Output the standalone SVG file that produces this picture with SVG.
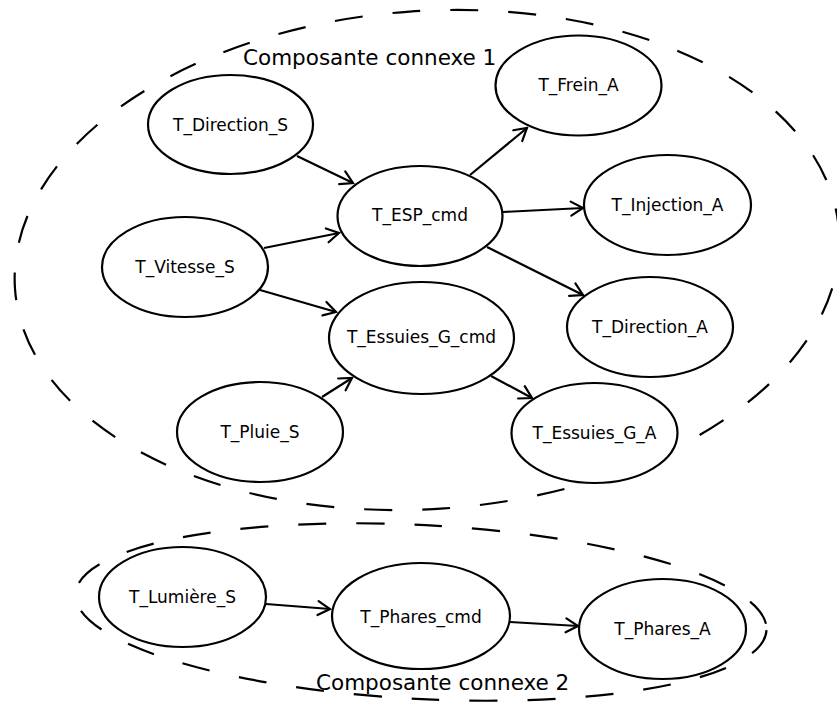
<svg xmlns="http://www.w3.org/2000/svg" width="837" height="706" viewBox="0 0 837 706">
  <style>
    .node ellipse { fill: #ffffff; stroke: #000000; stroke-width: 2.2; }
    .node text { font-family: "DejaVu Sans", "Liberation Sans", sans-serif; font-size: 17px; fill: #000000; text-anchor: middle; }
    .group { fill: none; stroke: #000000; stroke-width: 2.2; stroke-dasharray: 28 30; }
    .title { font-family: "DejaVu Sans", "Liberation Sans", sans-serif; font-size: 21.5px; fill: #000000; }
    #edges line { stroke: #000000; stroke-width: 2.2; marker-end: url(#arrow); }
  </style>
  <defs>
    <marker id="arrow" markerUnits="userSpaceOnUse" viewBox="-14 -9 16 18" refX="0" refY="0" markerWidth="16" markerHeight="18" orient="auto">
      <path d="M-12,-7 L0,0 L-12,7" fill="none" stroke="#000000" stroke-width="2.2" stroke-linecap="round" stroke-linejoin="miter"/>
    </marker>
  </defs>

  <rect width="837" height="706" fill="#ffffff"/>

  <!-- connected component outlines -->
  <g id="components">
    <ellipse class="group" cx="427" cy="260" rx="413" ry="249" transform="rotate(-4 427 260)"/>
    <ellipse class="group" cx="421" cy="612" rx="346" ry="87" transform="rotate(3 421 612)"/>
    <text class="title" x="243" y="65">Composante connexe 1</text>
    <text class="title" x="316" y="690">Composante connexe 2</text>
  </g>

  <!-- dependency arrows -->
  <g id="edges">
    <line x1="297" y1="156" x2="353" y2="183"/>
    <line x1="264" y1="248" x2="339" y2="233"/>
    <line x1="260" y1="290" x2="336" y2="312"/>
    <line x1="322" y1="397" x2="352" y2="378"/>
    <line x1="470" y1="175" x2="527" y2="128"/>
    <line x1="503" y1="212" x2="583" y2="208"/>
    <line x1="487" y1="247" x2="583" y2="295"/>
    <line x1="491" y1="376" x2="532" y2="398"/>
    <line x1="266" y1="604" x2="330" y2="609"/>
    <line x1="510" y1="622" x2="578" y2="626"/>
  </g>

  <!-- tasks -->
  <g id="T_Direction_S" class="node">
    <ellipse cx="230.5" cy="124.5" rx="82.5" ry="49.5"/>
    <text x="230.5" y="131">T_Direction_S</text>
  </g>
  <g id="T_Vitesse_S" class="node">
    <ellipse cx="185" cy="267" rx="83" ry="50"/>
    <text x="185" y="273">T_Vitesse_S</text>
  </g>
  <g id="T_Pluie_S" class="node">
    <ellipse cx="260" cy="432" rx="83" ry="50"/>
    <text x="260" y="438">T_Pluie_S</text>
  </g>
  <g id="T_ESP_cmd" class="node">
    <ellipse cx="420" cy="216" rx="82.5" ry="50"/>
    <text x="420" y="221">T_ESP_cmd</text>
  </g>
  <g id="T_Essuies_G_cmd" class="node">
    <ellipse cx="421.5" cy="338" rx="92.5" ry="56"/>
    <text x="421.5" y="343">T_Essuies_G_cmd</text>
  </g>
  <g id="T_Frein_A" class="node">
    <ellipse cx="578.5" cy="85.5" rx="83" ry="50"/>
    <text x="578.5" y="91">T_Frein_A</text>
  </g>
  <g id="T_Injection_A" class="node">
    <ellipse cx="667.5" cy="205" rx="83.5" ry="50"/>
    <text x="667.5" y="211">T_Injection_A</text>
  </g>
  <g id="T_Direction_A" class="node">
    <ellipse cx="650" cy="327" rx="83" ry="50"/>
    <text x="650" y="333">T_Direction_A</text>
  </g>
  <g id="T_Essuies_G_A" class="node">
    <ellipse cx="594.5" cy="433" rx="83" ry="50"/>
    <text x="594.5" y="439">T_Essuies_G_A</text>
  </g>
  <g id="T_Lumiere_S" class="node">
    <ellipse cx="182.5" cy="597" rx="83.5" ry="50"/>
    <text x="182.5" y="603">T_Lumière_S</text>
  </g>
  <g id="T_Phares_cmd" class="node">
    <ellipse cx="421" cy="616" rx="89" ry="53"/>
    <text x="421" y="623">T_Phares_cmd</text>
  </g>
  <g id="T_Phares_A" class="node">
    <ellipse cx="662.5" cy="629" rx="83.5" ry="50"/>
    <text x="662.5" y="635">T_Phares_A</text>
  </g>
</svg>
